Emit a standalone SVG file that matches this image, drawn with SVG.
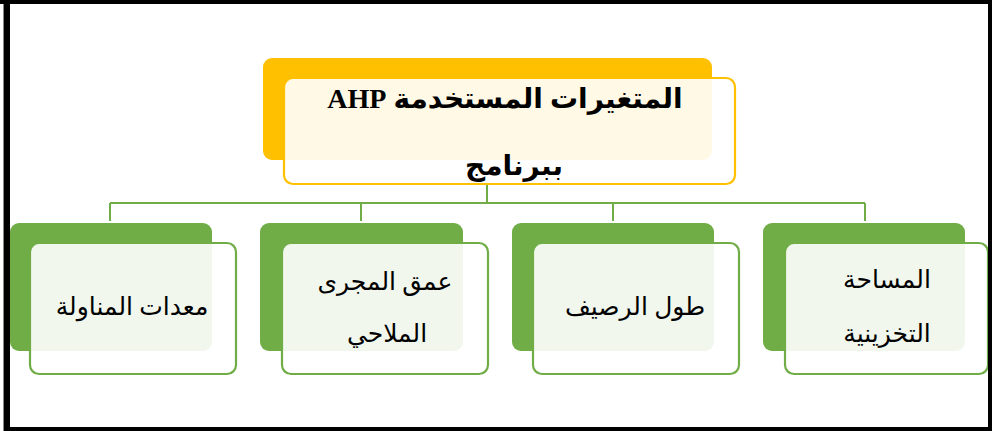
<svg xmlns="http://www.w3.org/2000/svg" width="992" height="431" viewBox="0 0 992 431">
<style>
.backY{fill:#FFC000}
.frontY{fill:#FFFFFF;fill-opacity:0.9;stroke:#FFC000;stroke-width:2.2}
.backG{fill:#70AD47}
.frontG{fill:#FFFFFF;fill-opacity:0.9;stroke:#70AD47;stroke-width:2.2}
.conn{fill:none;stroke:#70AD47;stroke-width:2}
.t{font-family:"Liberation Serif","DejaVu Sans",serif;fill:#000;text-anchor:middle;direction:rtl;unicode-bidi:embed}
.tb{font-size:28px;font-weight:bold}
.tn{font-size:25px}
</style>
<rect x="0" y="0" width="992" height="431" fill="#FFFFFF"/>
<g id="connectors">
<path class="conn" d="M487 184 V203 M110 203 H865 M110 203 V221 M361 203 V221 M613 203 V221 M865 203 V221"/>
</g>
<g id="root">
<rect class="backY" x="263" y="58" width="449" height="102" rx="9"/>
<rect class="frontY" x="284" y="78" width="451" height="106" rx="9"/>
<text class="t tb" x="505" y="108" direction="rtl">المتغيرات المستخدمة AHP</text>
<text class="t tb" x="514" y="175" direction="rtl">ببرنامج</text>
</g>
<g id="n1">
<rect class="backG" x="10" y="223" width="202" height="128" rx="9"/>
<rect class="frontG" x="30" y="243" width="206" height="131" rx="9"/>
<text class="t tn" x="132" y="315" direction="rtl">معدات المناولة</text>
</g>
<g id="n2">
<rect class="backG" x="260" y="223" width="203" height="128" rx="9"/>
<rect class="frontG" x="282" y="243" width="206" height="131" rx="9"/>
<text class="t tn" x="385" y="290" direction="rtl">عمق المجرى</text>
<text class="t tn" x="387" y="342" direction="rtl">الملاحي</text>
</g>
<g id="n3">
<rect class="backG" x="512" y="223" width="202" height="128" rx="9"/>
<rect class="frontG" x="533" y="243" width="206" height="131" rx="9"/>
<text class="t tn" x="635" y="315" direction="rtl">طول الرصيف</text>
</g>
<g id="n4">
<rect class="backG" x="763" y="223" width="202" height="128" rx="9"/>
<rect class="frontG" x="785" y="243" width="203" height="131" rx="9"/>
<text class="t tn" x="887" y="288" direction="rtl">المساحة</text>
<text class="t tn" x="887" y="342" direction="rtl">التخزينية</text>
</g>
<g id="frame">
<rect x="3" y="0" width="1" height="431" fill="#888888"/>
<rect x="4" y="0" width="6" height="431" fill="#000000"/>
<rect x="0" y="0" width="992" height="4" fill="#000000"/>
<rect x="988" y="0" width="4" height="431" fill="#000000"/>
<rect x="4" y="427" width="988" height="4" fill="#000000"/>
</g>
</svg>
